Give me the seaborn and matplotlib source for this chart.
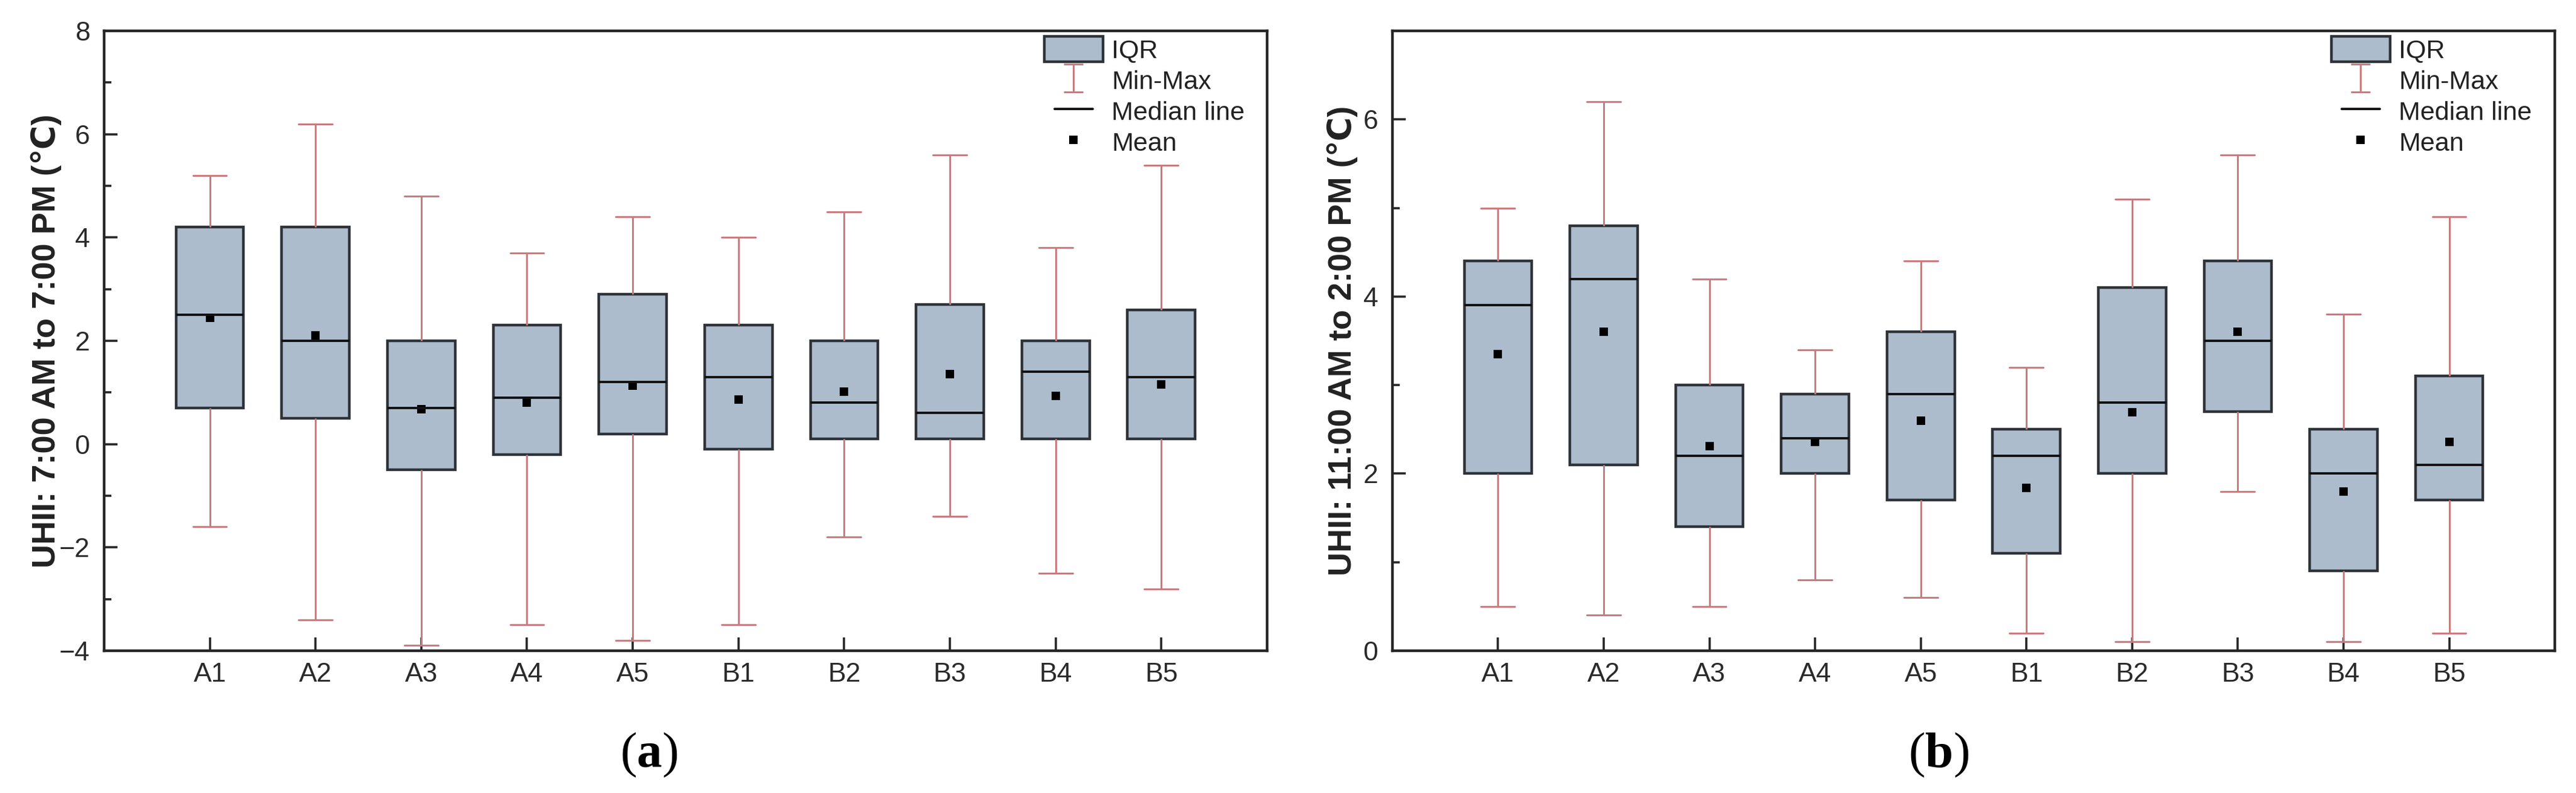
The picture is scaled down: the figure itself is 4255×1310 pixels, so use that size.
import numpy as np
import pandas as pd
import matplotlib
matplotlib.use("Agg")
import matplotlib.pyplot as plt
import matplotlib.patches as mpatches
from matplotlib.lines import Line2D
from matplotlib.legend_handler import HandlerErrorbar, HandlerLine2D
from matplotlib.ticker import MultipleLocator
import seaborn as sns

# ---------------- data ----------------
sites = ["A1", "A2", "A3", "A4", "A5", "B1", "B2", "B3", "B4", "B5"]

# (a) UHII 7:00 AM to 7:00 PM
a_min = [-1.6, -3.4, -3.9, -3.5, -3.8, -3.5, -1.8, -1.4, -2.5, -2.8]
a_q1 = [0.7, 0.5, -0.5, -0.2, 0.2, -0.1, 0.1, 0.1, 0.1, 0.1]
a_med = [2.5, 2.0, 0.7, 0.9, 1.2, 1.3, 0.8, 0.6, 1.4, 1.3]
a_q3 = [4.2, 4.2, 2.0, 2.3, 2.9, 2.3, 2.0, 2.7, 2.0, 2.6]
a_max = [5.2, 6.2, 4.8, 3.7, 4.4, 4.0, 4.5, 5.6, 3.8, 5.4]
a_mean = [2.44, 2.1, 0.68, 0.8, 1.13, 0.86, 1.02, 1.35, 0.93, 1.16]

# (b) UHII 11:00 AM to 2:00 PM
b_min = [0.5, 0.4, 0.5, 0.8, 0.6, 0.2, 0.1, 1.8, 0.1, 0.2]
b_q1 = [2.0, 2.1, 1.4, 2.0, 1.7, 1.1, 2.0, 2.7, 0.9, 1.7]
b_med = [3.9, 4.2, 2.2, 2.4, 2.9, 2.2, 2.8, 3.5, 2.0, 2.1]
b_q3 = [4.4, 4.8, 3.0, 2.9, 3.6, 2.5, 4.1, 4.4, 2.5, 3.1]
b_max = [5.0, 6.2, 4.2, 3.4, 4.4, 3.2, 5.1, 5.6, 3.8, 4.9]
b_mean = [3.35, 3.6, 2.31, 2.36, 2.6, 1.84, 2.69, 3.6, 1.8, 2.36]

ylabels = ["UHII: 7:00 AM to 7:00 PM (\u2103)", "UHII: 11:00 AM to 2:00 PM (\u2103)"]
legend_labels = ["IQR", "Min-Max", "Median line", "Mean"]

# ---------------- style ----------------
BOX_FACE = "#ADBCCD"
BOX_EDGE = "#2E3338"
WHISK = "#C97B7E"
SPINE = "#262626"
TXT = "#222222"

sns.set_theme(style="ticks")
plt.rcParams["font.family"] = ["Liberation Sans", "DejaVu Sans"]
plt.rcParams["mathtext.fontset"] = "custom"
plt.rcParams["mathtext.rm"] = "Liberation Serif"
plt.rcParams["mathtext.bf"] = "Liberation Serif:bold"


def summary_frame(mins, q1s, meds, q3s, maxs):
    rows = []
    for s, v0, v1, v2, v3, v4 in zip(sites, mins, q1s, meds, q3s, maxs):
        for v in (v0, v1, v2, v3, v4):
            rows.append({"site": s, "value": v})
    return pd.DataFrame(rows)


fig = plt.figure(figsize=(42.55, 13.1), dpi=100)
ax_a = fig.add_axes([0.0404, 0.1794, 0.4515, 0.7817])
ax_b = fig.add_axes([0.5405, 0.1794, 0.4513, 0.7817])

panels = [
    (ax_a, summary_frame(a_min, a_q1, a_med, a_q3, a_max), a_mean, (-4, 8), -0.0364, 0.8084),
    (ax_b, summary_frame(b_min, b_q1, b_med, b_q3, b_max), b_mean, (0, 7), -0.0297, 0.8078),
]

BOX_LW = 3.2
MED_LW = 2.8
WH_LW = 2.2

for i, (ax, df, means, ylim, lab_x, leg_x) in enumerate(panels):
    sns.boxplot(
        data=df, x="site", y="value", order=sites, ax=ax,
        width=0.64, whis=(0, 100), color=BOX_FACE, saturation=1,
        linecolor=BOX_EDGE, linewidth=BOX_LW, fliersize=0,
        whiskerprops=dict(color=WHISK, linewidth=WH_LW),
        capprops=dict(color=WHISK, linewidth=WH_LW),
        medianprops=dict(color="#111111", linewidth=MED_LW),
        boxprops=dict(facecolor=BOX_FACE, edgecolor=BOX_EDGE, linewidth=BOX_LW),
    )
    sns.pointplot(
        x=sites, y=means, order=sites, ax=ax, color="black",
        marker="s", linestyle="none", markersize=10, markeredgewidth=0,
        errorbar=None,
    )

    ax.set_xlim(-1, len(sites))
    ax.set_ylim(*ylim)
    ax.yaxis.set_major_locator(MultipleLocator(2))
    ax.yaxis.set_minor_locator(MultipleLocator(1))
    ax.set_xlabel("")
    ax.set_ylabel(ylabels[i], fontsize=39, fontweight="bold", color=TXT)
    ax.yaxis.set_label_coords(lab_x, 0.5)

    ax.tick_params(axis="both", which="major", direction="in", length=16,
                   width=2.6, color=SPINE, labelsize=32, labelcolor="#2a2a2a")
    ax.tick_params(axis="y", which="major", pad=17)
    ax.tick_params(axis="x", which="major", pad=14)
    ax.tick_params(axis="y", which="minor", direction="in", length=8.5,
                   width=2.6, color=SPINE)
    ax.tick_params(axis="x", which="minor", bottom=False)
    for sp in ax.spines.values():
        sp.set_visible(True)
        sp.set_linewidth(3.2)
        sp.set_color(SPINE)
    ax.grid(False)

    # legend
    iqr_handle = mpatches.Patch(facecolor=BOX_FACE, edgecolor=BOX_EDGE, linewidth=BOX_LW)
    eb = ax.errorbar([np.nan], [np.nan], yerr=[1.0], fmt="none", ecolor=WHISK,
                     elinewidth=WH_LW, capsize=11.5, capthick=WH_LW)
    med_handle = Line2D([], [], color="#111111", linewidth=MED_LW)
    mean_handle = Line2D([], [], color="black", marker="s", linestyle="none",
                         markersize=9.5, markeredgewidth=0)
    leg = ax.legend(
        [iqr_handle, eb, med_handle, mean_handle], legend_labels,
        loc="upper left", bbox_to_anchor=(leg_x, 0.991), frameon=False,
        fontsize=31, borderpad=0, borderaxespad=0, handlelength=2.25,
        handleheight=1.1, handletextpad=0.33, labelspacing=0.16,
        handler_map={
            eb: HandlerErrorbar(yerr_size=0.53),
            med_handle: HandlerLine2D(numpoints=2, marker_pad=0.4),
        },
    )
    for t in leg.get_texts():
        t.set_color(TXT)

# panel tags
fig.text(1072 / 4255, 1 - 1247 / 1310, r"($\mathbf{a}$)", fontsize=60,
         family="Liberation Serif", ha="center", va="center", color="black")
fig.text(3202 / 4255, 1 - 1247 / 1310, r"($\mathbf{b}$)", fontsize=60,
         family="Liberation Serif", ha="center", va="center", color="black")

fig.savefig("out.png", dpi=100, facecolor="white")
